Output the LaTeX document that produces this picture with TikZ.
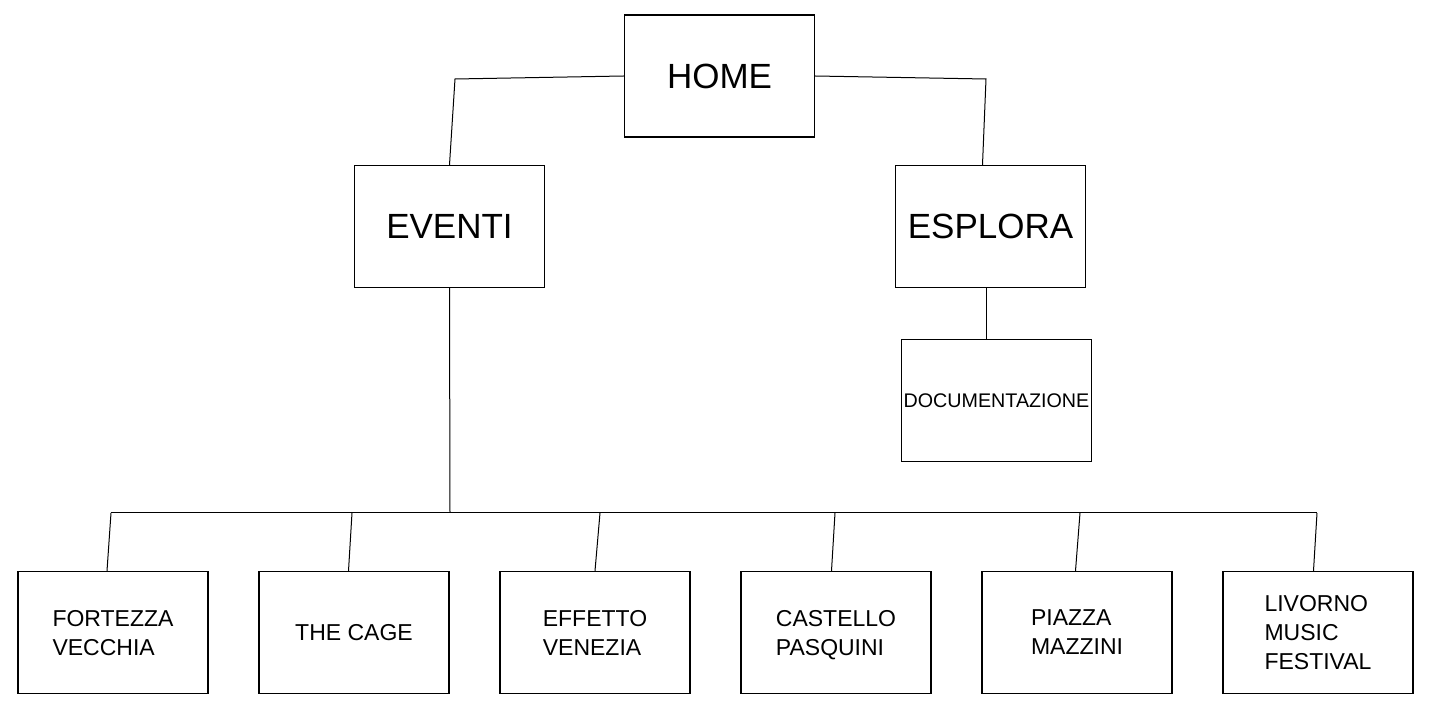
\documentclass[tikz,border=0pt]{standalone}
\usepackage{fontspec}
\setmainfont{Liberation Sans}
\begin{document}
\begin{tikzpicture}[x=0.5pt, y=-0.5pt, node distance={120.5pt},
	main/.style = {draw, line width=0.65pt, minimum width=95pt, minimum height=61pt, align=center, font=\fontsize{17.5}{21}\selectfont},
	leaf/.style = {main, align=left, text depth=0pt, font=\fontsize{11.5}{14.5}\selectfont},
	link/.style = {line width=0.5pt}]
	\useasboundingbox (0,0) rectangle (1431,705);

	%% Nodes
	\node[main] (home) at (719.5,76) {HOME};
	\node[main] (eventi) at (449.5,226.5) {EVENTI};
	\node[main] (esplora) at (990.5,226.5) {ESPLORA};
	\node[main, inner xsep=0pt, font=\fontsize{9.85}{12}\selectfont] (doc) at (996.5,400.5) {DOCUMENTAZIONE};

	\node[leaf] (fortezza) at (113,632.5) {FORTEZZA\\VECCHIA};
	\node[leaf][right of=fortezza] (cage) {THE CAGE};
	\node[leaf][right of=cage] (effetto) {EFFETTO\\VENEZIA};
	\node[leaf][right of=effetto] (castello) {CASTELLO\\PASQUINI};
	\node[leaf][right of=castello] (piazza) {PIAZZA\\MAZZINI};
	\node[leaf][right of=piazza] (livorno) {LIVORNO\\MUSIC\\FESTIVAL};

	%% Corners of the tree
	\coordinate (hl) at (455,79);
	\coordinate (hr) at (986,79);
	\coordinate (bus) at (450,513);
	\coordinate (b1) at (111,513);
	\coordinate (b2) at (352,513);
	\coordinate (b3) at (600,513);
	\coordinate (b4) at (835,513);
	\coordinate (b5) at (1080,513);
	\coordinate (b6) at (1317,513);

	%% Edges
	\draw[link] (home.west) -- (hl) -- (eventi.north);
	\draw[link] (home.east) -- (hr) -- ([xshift=-4pt]esplora.north);
	\draw[link] ([xshift=-2pt]esplora.south) -- ([xshift=-5pt]doc.north);
	\draw[link] (eventi.south) -- (bus);
	\draw[link] (b1) -- (b6);
	\draw[link] (b1) -- ([xshift=-3pt]fortezza.north);
	\draw[link] (b2) -- ([xshift=-2.75pt]cage.north);
	\draw[link] (b3) -- (effetto.north);
	\draw[link] (b4) -- ([xshift=-2.25pt]castello.north);
	\draw[link] (b5) -- ([xshift=-0.75pt]piazza.north);
	\draw[link] (b6) -- ([xshift=-2.25pt]livorno.north);

\end{tikzpicture}
\end{document}
